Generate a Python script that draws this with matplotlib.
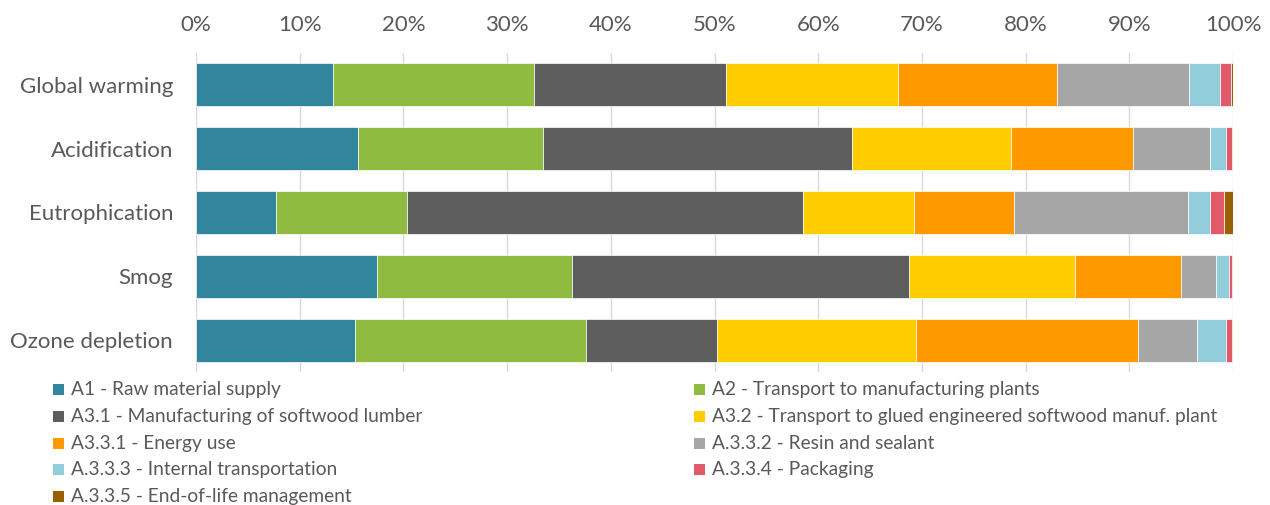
import matplotlib.pyplot as plt
from matplotlib.patches import Rectangle
import numpy as np

plt.rcParams['font.family'] = ['Lato', 'DejaVu Sans']

categories = ['Global warming', 'Acidification', 'Eutrophication', 'Smog', 'Ozone depletion']

series = [
    'A1 - Raw material supply',
    'A2 - Transport to manufacturing plants',
    'A3.1 - Manufacturing of softwood lumber',
    'A3.2 - Transport to glued engineered softwood manuf. plant',
    'A3.3.1 - Energy use',
    'A.3.3.2 - Resin and sealant',
    'A.3.3.3 - Internal transportation',
    'A.3.3.4 - Packaging',
    'A.3.3.5 - End-of-life management',
]

colors = ['#31859C', '#8FBC40', '#5E5E5E', '#FFCC00', '#FF9900',
          '#A6A6A6', '#92CDDC', '#E05A6A', '#996100']

# percent shares per category (same order as categories)
a1 = [13.2, 15.6, 7.7, 17.45, 15.3]
a2 = [19.4, 17.9, 12.6, 18.85, 22.3]
a31 = [18.5, 29.8, 38.2, 32.5, 12.6]
a32 = [16.6, 15.3, 10.7, 16.0, 19.2]
a331 = [15.3, 11.8, 9.7, 10.2, 21.4]
a332 = [12.8, 7.4, 16.8, 3.4, 5.7]
a333 = [2.9, 1.5, 2.05, 1.2, 2.8]
a334 = [1.15, 0.6, 1.35, 0.3, 0.6]
a335 = [0.15, 0.1, 0.9, 0.1, 0.1]

values = [a1, a2, a31, a32, a331, a332, a333, a334, a335]

fig = plt.figure(figsize=(12.7, 5.05), dpi=100)
ax = fig.add_axes([196 / 1270, 1 - 372 / 505, (1233 - 196) / 1270, (372 - 53) / 505])

y = np.arange(len(categories))
left = np.zeros(len(categories))
for vals, col in zip(values, colors):
    vals = np.array(vals)
    ax.barh(y, vals, left=left, height=0.675, color=col,
            edgecolor='white', linewidth=0.5, zorder=3)
    left += vals

ax.set_xlim(0, 100)
ax.set_ylim(len(categories) - 0.5, -0.5)
ax.set_yticks(y)
ax.set_yticklabels(categories, fontsize=16, color='#595959')
ax.xaxis.tick_top()
ax.set_xticks(np.arange(0, 101, 10))
ax.set_xticklabels([f'{t}%' for t in range(0, 101, 10)], fontsize=16, color='#595959')
ax.tick_params(axis='x', length=0, pad=13.3)
ax.tick_params(axis='y', length=0, pad=16.5)
ax.grid(axis='x', color='#D9D9D9', linewidth=1, zorder=0)
for s in ax.spines.values():
    s.set_visible(False)

# legend, two columns filled row by row
for i, (lab, col) in enumerate(zip(series, colors)):
    row, c = divmod(i, 2)
    yc = 389.5 + row * 26.8
    x0 = 53 if c == 0 else 694
    fig.patches.append(Rectangle((x0 / 1270, 1 - (yc + 5.5) / 505), 11 / 1270, 11 / 505,
                                 transform=fig.transFigure, facecolor=col, edgecolor='none'))
    fig.text((x0 + 18) / 1270, 1 - yc / 505, lab, fontsize=13.8, color='#595959',
             va='center', ha='left')

fig.savefig('out.png', dpi=100)
